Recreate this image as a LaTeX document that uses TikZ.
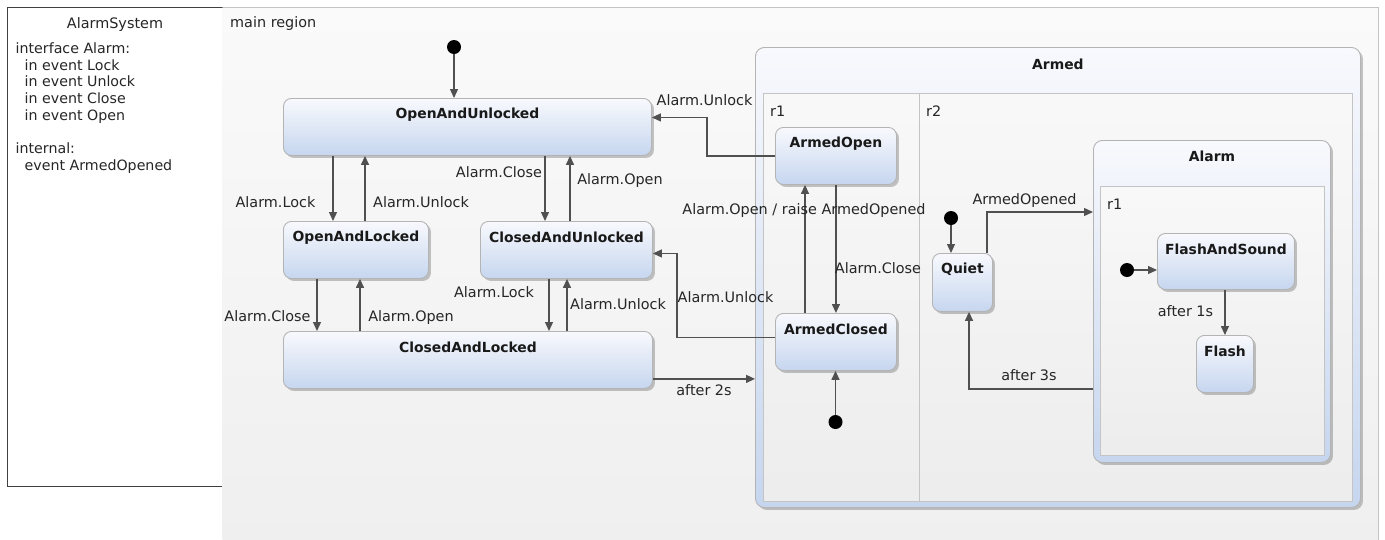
\documentclass[tikz,border=0pt]{standalone}
\usepackage{fontspec}
\setmainfont{DejaVu Sans}
\usetikzlibrary{arrows.meta,shadows,calc}
\definecolor{stTop}{HTML}{F8F9FD}
\definecolor{stBot}{HTML}{C6D6EF}
\definecolor{stBorder}{HTML}{B4B4B4}
\definecolor{regFill}{HTML}{F4F4F4}
\definecolor{regBorder}{HTML}{C4C4C4}
\definecolor{arrowCol}{HTML}{505050}
\definecolor{bgTop}{HTML}{FAFAFA}
\definecolor{bgBot}{HTML}{EFEFEF}
\tikzset{
  stbox/.style={rectangle, rounded corners=8pt, draw=stBorder, line width=0.9pt,
    top color=stTop, bottom color=stBot, anchor=north west, inner sep=0pt,
    drop shadow={shadow xshift=2.5pt, shadow yshift=-2.5pt, fill=black, opacity=0.22}},
  compbox/.style={rectangle, rounded corners=9pt, draw=stBorder, line width=0.9pt,
    top color=stTop, bottom color=stBot, anchor=north west, inner sep=0pt,
    drop shadow={shadow xshift=2.5pt, shadow yshift=-2.5pt, fill=black, opacity=0.22}},
  regbox/.style={rectangle, draw=regBorder, line width=0.9pt, top color=regFill!60!white, bottom color=regFill!97!black,
    anchor=north west, inner sep=0pt},
  sttitle/.style={font=\bfseries\fontsize{13.9}{16}\selectfont, inner sep=0pt, text=black!90},
  lbl/.style={font=\fontsize{14.4}{17}\selectfont, inner sep=0pt, text height=10.5pt, text depth=3pt, text=black!85},
  txt/.style={font=\fontsize{14.4}{17}\selectfont, inner sep=0pt, text=black!85},
  initdot/.style={circle, fill=black, minimum size=14pt, inner sep=0pt},
  tr/.style={draw=arrowCol, line width=1.3pt, -{Triangle[length=9pt,width=8pt]}}
}
\newcommand\mkstate[6]{%
  \node[stbox, minimum width=#4pt, minimum height=#5pt] (#1) at (#2,#3) {};
  \node[sttitle] (#1-t) at ([yshift=-16.5pt]#1.north) {#6};
}
\begin{document}
\begin{tikzpicture}[x=1pt,y=-1pt]
\useasboundingbox (0,0) rectangle (1385,539);
% left declaration box
\node[draw=black!75, line width=0.9pt, fill=white, anchor=north west, minimum width=215pt, minimum height=479pt, inner sep=0pt] (decl) at (7,7) {};
\node[txt] (decl-t) at (115,25) {AlarmSystem};
\node[txt, anchor=north west, align=left, font=\fontsize{14.2}{16.7}\selectfont] (decl-b) at (15.5,42.5)
  {interface Alarm:\\
   \ \ in event Lock\\
   \ \ in event Unlock\\
   \ \ in event Close\\
   \ \ in event Open\\
   \\
   internal:\\
   \ \ event ArmedOpened};
% main region
\node[anchor=north west, minimum width=1156pt, minimum height=540pt, inner sep=0pt, top color=bgTop, bottom color=bgBot] (main) at (222.5,7) {};
\draw[regBorder, line width=0.9pt] (main.north west) -- (main.north east) -- (main.south east);
\node[txt, anchor=west] (main-t) at (230,24) {main region};

% composite state Armed
\node[compbox, minimum width=605pt, minimum height=460pt] (armed) at (755,47) {};
\node[sttitle] (armed-t) at ([yshift=-17pt]armed.north) {Armed};
\node[regbox, minimum width=156pt, minimum height=408pt] (ar1) at (763,93) {};
\node[regbox, minimum width=433pt, minimum height=408pt] (ar2) at (919,93) {};
\node[txt, anchor=west] (ar1-t) at (770,111) {r1};
\node[txt, anchor=west] (ar2-t) at (926,111) {r2};

% composite state Alarm
\node[compbox, minimum width=237pt, minimum height=322pt] (alarm) at (1093,140) {};
\node[sttitle] (alarm-t) at ([yshift=-16pt]alarm.north) {Alarm};
\node[regbox, minimum width=224pt, minimum height=269pt] (al1) at (1099.5,186) {};
\node[txt, anchor=west] (al1-t) at (1107,204) {r1};

% simple states
\mkstate{ouk}{283}{98}{368}{57}{OpenAndUnlocked}
\mkstate{oal}{283}{221}{145}{57}{OpenAndLocked}
\mkstate{cau}{480}{221}{172}{57}{ClosedAndUnlocked}
\mkstate{cal}{283}{331}{369}{57}{ClosedAndLocked}
\mkstate{aop}{775}{127}{121}{57}{ArmedOpen}
\mkstate{acl}{775}{313}{121}{57}{ArmedClosed}
\mkstate{qui}{932}{253}{60}{58}{Quiet}
\mkstate{fas}{1157}{233}{137}{56}{FlashAndSound}
\mkstate{fla}{1196}{335}{57}{57}{Flash}

% initial states
\node[initdot] (i0) at (454,47) {};
\node[initdot] (i1) at (835.5,422) {};
\node[initdot] (i2) at (951,218) {};
\node[initdot] (i3) at (1127,270) {};

% transitions
\draw[tr] (i0) -- (i0 |- ouk.north);
\draw[tr] ([xshift=50pt]ouk.south west) -- ([xshift=50pt]oal.north west);
\draw[tr] ([xshift=82pt]oal.north west) -- ([xshift=82pt]ouk.south west);
\draw[tr] ([xshift=262pt]ouk.south west) -- ([xshift=65pt]cau.north west);
\draw[tr] ([xshift=90pt]cau.north west) -- ([xshift=287pt]ouk.south west);
\draw[tr] ([xshift=34pt]oal.south west) -- ([xshift=34pt]cal.north west);
\draw[tr] ([xshift=77pt]cal.north west) -- ([xshift=77pt]oal.south west);
\draw[tr] ([xshift=69pt]cau.south west) -- ([xshift=266pt]cal.north west);
\draw[tr] ([xshift=284pt]cal.north west) -- ([xshift=87pt]cau.south west);
\coordinate (c10) at ([yshift=10pt]cal.south east);
\draw[tr] (c10) -- (c10 -| armed.west);
\draw[tr] (aop.west) -- ++(-68,0) |- ([yshift=9.5pt]ouk.east);
\draw[tr] ([yshift=4.5pt]acl.west) -- ++(-98,0) |- ([yshift=-3.5pt]cau.east);
\draw[tr] (i1) -- (i1 |- acl.south);
\draw[tr] (aop.south) -- (acl.north);
\draw[tr] ([xshift=30pt]acl.north west) -- ([xshift=30pt]aop.south west);
\draw[tr] (i2) -- (i2 |- qui.north);
\draw[tr] ([xshift=55pt]qui.north west) |- ([yshift=-72pt]alarm.north west);
\draw[tr] ([yshift=-249pt]alarm.north west) -| ([xshift=37pt]qui.south west);
\draw[tr] (i3) -- (i3 -| fas.west);
\draw[tr] (fla.north |- fas.south) -- (fla.north);

% transition labels
\node[lbl] (t1) at (275.5,204) {Alarm.Lock};
\node[lbl] (t2) at (421,204) {Alarm.Unlock};
\node[lbl] (t3) at (499,174) {Alarm.Close};
\node[lbl] (t4) at (620,181) {Alarm.Open};
\node[lbl] (t5) at (267.5,318) {Alarm.Close};
\node[lbl] (t6) at (411,318) {Alarm.Open};
\node[lbl] (t7) at (494,294) {Alarm.Lock};
\node[lbl] (t8) at (618,306) {Alarm.Unlock};
\node[lbl] (t9) at (704,392) {after 2s};
\node[lbl] (t10) at (704.5,102) {Alarm.Unlock};
\node[lbl] (t11) at (725.5,299) {Alarm.Unlock};
\node[lbl] (t12) at (804,211) {Alarm.Open / raise ArmedOpened};
\node[lbl] (t13) at (878,270) {Alarm.Close};
\node[lbl] (t14) at (1024.5,201) {ArmedOpened};
\node[lbl] (t15) at (1029,377) {after 3s};
\node[lbl] (t16) at (1185.5,313) {after 1s};
\end{tikzpicture}
\end{document}
